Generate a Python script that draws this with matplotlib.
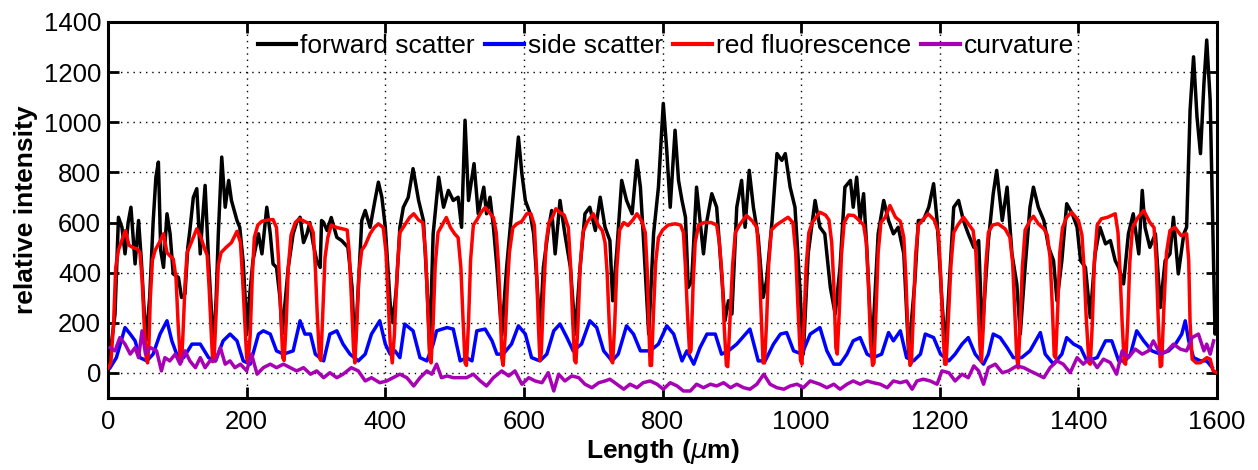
import matplotlib
matplotlib.use("Agg")
import matplotlib.pyplot as plt

plt.rcParams['font.family'] = ['Liberation Sans', 'DejaVu Sans']

# ---------------- data ----------------
fwd_x = [0, 5, 10, 15, 20, 24.5, 29, 33, 39, 44, 48, 52, 55, 60, 65, 69, 72.6, 76, 80, 85, 89.5, 94,
         101.5, 106, 111, 115, 118, 123, 128, 133, 136, 140, 145, 149, 152, 156, 159, 164, 169, 174, 178,
         186, 190, 195, 198, 200, 204, 209, 217, 222, 229, 234, 238, 243, 248, 251, 256, 260, 267, 272,
         277, 282, 287, 291, 296, 301, 306, 308, 311, 316, 322, 330, 337, 346, 352, 356, 361, 366, 371,
         378, 385, 390, 395, 400, 407, 411, 416, 421,
         426, 433, 440, 448, 455, 460, 464, 469, 477, 484, 491, 498, 505, 510, 515, 520, 528, 534, 542,
         546, 551, 556, 561, 568, 575, 582, 592, 597, 602, 609, 614, 619, 623, 628, 635, 640, 645, 652,
         659, 667, 674, 681, 688, 695, 703, 710, 717, 724, 728, 734, 741, 748, 756, 763, 768, 772, 780,
         787, 794, 801, 806, 811, 818, 823, 828, 833, 837, 842, 849, 854, 859, 864, 871, 878, 883, 890,
         895, 900, 907, 914, 919, 925, 931, 938, 945, 950, 958, 965, 972, 977, 984, 991, 998, 1003,
         1010, 1020, 1027, 1034, 1042, 1049, 1056, 1063, 1071, 1075, 1080, 1085, 1090, 1095, 1102,
         1111, 1119, 1126, 1133, 1140, 1148, 1155, 1164, 1169, 1176, 1184, 1191, 1196, 1203, 1208,
         1215, 1220, 1227, 1234, 1241, 1249, 1256, 1261, 1270, 1277, 1282, 1290, 1297, 1304, 1311, 1316,
         1323, 1330, 1335, 1342, 1350, 1357, 1364, 1369, 1376, 1383, 1391, 1398, 1403, 1410, 1417,
         1424, 1431, 1439, 1446, 1453, 1458, 1465, 1472, 1479, 1487, 1492, 1496, 1503, 1511, 1518,
         1525, 1532, 1537, 1544, 1552, 1556, 1561, 1566, 1571, 1576, 1581, 1585, 1590, 1594, 1597, 1600]
fwd_y = [60, 120, 235, 621, 581, 475, 600, 661, 435, 608, 450, 250, 130, 300, 600, 780, 841, 488, 421, 635, 555, 395,
         381, 301, 315, 500, 568, 700, 735, 475, 600, 748, 448, 250, 88, 300, 550, 861, 661, 768, 688,
         608, 581, 440, 288, 155, 300, 448, 555, 475, 661, 555, 435, 421, 300, 155, 300, 421, 555, 600,
         621, 520, 555, 600, 515, 448, 421, 608, 600, 568, 620, 541, 528, 501, 341, 75, 341, 608, 648,
         581, 688, 761, 701, 581, 275, 200, 341, 581,
         661, 700, 815, 688, 608, 355, 88, 555, 781, 661, 728, 688, 701, 581, 1008, 688, 835, 635, 741,
         635, 701, 581, 421, 150, 421, 635, 941, 795, 688, 635, 555, 355, 155, 421, 568, 648, 475, 688,
         555, 421, 155, 421, 635, 661, 568, 701, 581, 528, 288, 488, 768, 688, 635, 848, 741, 555, 155,
         555, 741, 1075, 888, 661, 968, 768, 688, 621, 341, 368, 741, 608, 475, 608, 715, 661, 475, 208,
         288, 235, 661, 768, 581, 808, 661, 541, 301, 368, 608, 875, 848, 875, 741, 661, 341, 75,
         475, 688, 581, 555, 341, 235, 421, 741, 768, 661, 781, 608, 715, 475, 75,
         555, 688, 608, 555, 581, 475, 75, 368, 608, 608, 661, 755, 608, 288, 88,
         421, 661, 688, 608, 555, 501, 528, 155, 528, 715, 808, 608, 741, 475, 355, 155,
         421, 661, 741, 661, 608, 501, 448, 288, 448, 675, 635, 581, 448, 421, 221,
         475, 581, 515, 528, 448, 421, 355, 555, 635, 475, 728, 581, 501, 555, 261,
         448, 475, 621, 395, 555, 581, 1048, 1261, 1021, 875, 1155, 1328, 1088, 555, 155, 250]

side_x = [3, 12, 24.5, 32, 39, 46, 56, 65, 75, 85, 92, 99, 109, 121, 133, 145, 155, 166, 176, 186, 195,
          205, 217, 224, 234, 243, 253, 267, 277, 284, 292, 299, 311, 320, 330, 339, 349, 361, 371, 380,
          392, 400, 407, 414, 421, 428, 440, 450, 460, 469, 474, 489, 498, 508, 517, 525, 532, 544, 554,
          561, 570, 582, 592, 602, 611, 623, 633, 643, 652, 662, 671, 683, 695, 705, 715, 727, 736, 748,
          758, 768, 782, 794, 806, 816, 828, 835, 845, 854, 864, 876, 885, 895, 907, 926, 938, 948, 960,
          970, 979, 989, 1001, 1013, 1027, 1037, 1047, 1056, 1066, 1075, 1085, 1095, 1104, 1116, 1126,
          1133, 1143, 1152, 1162, 1172, 1179, 1191, 1201, 1213, 1222, 1232, 1241, 1251, 1263, 1270,
          1277, 1287, 1297, 1306, 1318, 1330, 1345, 1352, 1364, 1376, 1383, 1393, 1403, 1412, 1427,
          1439, 1448, 1458, 1467, 1475, 1484, 1494, 1506, 1518, 1530, 1540, 1549, 1554, 1559, 1566,
          1576, 1585, 1593]
side_y = [21, 61, 181, 155, 128, 61, 48, 75, 155, 208, 128, 75, 61, 115, 115, 61, 48, 128, 155, 128, 48,
          35, 155, 168, 155, 88, 75, 88, 208, 155, 155, 75, 48, 155, 168, 115, 75, 48, 75, 155,
          208, 115, 75, 88, 61, 195, 168, 61, 48, 115, 168, 181, 175, 48, 61, 48, 168, 175, 128,
          75, 75, 115, 188, 155, 61, 48, 75, 168, 195, 141, 88, 115, 208, 181, 88, 48, 75, 188,
          155, 88, 88, 115, 188, 155, 48, 88, 35, 101, 155, 155, 75, 88, 115, 175, 48, 48, 115,
          155, 161, 88, 75, 155, 181, 88, 35, 35, 75, 128, 141, 75, 61, 75, 161,
          128, 168, 61, 48, 75, 155, 141, 75, 48, 75, 115, 141, 75, 35, 75,
          155, 141, 101, 61, 61, 88, 161, 75, 35, 75, 141, 115, 101, 48, 61,
          128, 128, 48, 48, 75, 168, 128, 88, 75, 88, 115, 155, 208, 128, 61,
          48, 48, 21]

red_x = [0, 4, 8, 11, 15, 20, 25, 30, 36, 42, 46, 49, 52, 55, 57, 59, 61, 64, 68, 74, 80, 85, 90, 94, 98,
         101, 104, 106, 108, 111, 114, 120, 128, 134, 140, 143, 146, 149, 151, 153, 156, 159, 163, 170,
         178, 186, 191, 194, 197, 200, 202, 205, 208, 211, 216, 222, 230, 238, 243, 246, 249, 252, 254,
         257, 260, 264, 270, 276, 283, 291, 296, 299, 302, 305, 307, 310, 313, 317, 322, 330, 338, 345,
         348, 351, 354, 356, 359, 362, 366, 371, 378, 384, 390, 397, 401, 404, 407, 410, 413, 417, 421,
         428, 435, 441, 448, 454, 458, 461, 464, 466, 469, 472, 476, 482, 488, 494, 500, 505, 509, 512,
         515, 517, 520, 523, 527, 532, 538, 544, 550, 556, 560, 563, 566, 568, 570, 573, 576, 579, 584,
         590, 597, 604, 610, 615, 618, 621, 623, 625, 628, 632, 636, 641, 646, 652, 658, 664, 667, 670,
         673, 675, 678, 681, 685, 691, 700, 707, 713, 717, 720, 723, 726, 728, 731, 734, 738, 744, 750,
         757, 763, 770, 775, 778, 780, 782, 784, 787, 790, 794, 800, 808, 818, 826, 830, 833, 836, 839,
         841, 844, 847, 852, 860, 870, 878, 882, 886, 889, 892, 894, 897, 901, 905, 911, 921, 930, 936,
         939, 942, 945, 947, 950, 953, 957, 964, 974, 981, 988, 992, 995, 999, 1001, 1004, 1007, 1011,
         1016, 1027, 1035, 1040, 1044, 1047, 1050, 1052, 1055, 1058, 1062, 1068, 1076, 1083, 1090, 1094,
         1097, 1100, 1103, 1105, 1108, 1111, 1115, 1121, 1128, 1136, 1143, 1148, 1151, 1154, 1157, 1159,
         1162, 1165, 1169, 1175, 1183, 1192, 1198, 1201, 1204, 1207, 1209, 1212, 1216, 1220, 1226, 1234,
         1241, 1248, 1252, 1255, 1258, 1260, 1263, 1266, 1270, 1276, 1284, 1294, 1301, 1305, 1308, 1311,
         1313, 1316, 1319, 1323, 1330, 1335, 1342, 1350, 1355, 1359, 1362, 1365, 1367, 1370, 1373, 1377,
         1383, 1390, 1400, 1405, 1408, 1411, 1415, 1417, 1420, 1423, 1427, 1433, 1442, 1453, 1457, 1460,
         1463, 1466, 1468, 1471, 1474, 1478, 1486, 1494, 1503, 1509, 1512, 1515, 1518, 1520, 1523, 1527,
         1532, 1539, 1548, 1556, 1559, 1561, 1564, 1570, 1576, 1580, 1585, 1590, 1594, 1600]
red_y = [20, 40, 200, 420, 490, 530, 568, 510, 500, 495, 480, 380, 200, 60, 40, 120, 300, 450, 490, 520,
         555, 480, 465, 455, 380, 200, 60, 45, 150, 350, 480, 520, 575, 540, 490, 470, 330, 150, 45, 60,
         250, 430, 480, 500, 520, 565, 520, 380, 220, 60, 40, 150, 380, 540, 590, 605, 610, 612, 580, 450,
         260, 60, 50, 200, 420, 550, 600, 615, 605, 595, 560, 420, 220, 60, 50, 250, 460, 540, 590, 580,
         575, 570, 480, 300, 100, 40, 200, 400, 490, 510, 555, 580, 595, 580, 480, 300, 120, 40, 150, 400,
         560, 590, 620, 635, 610, 600, 480, 280, 60, 40, 200, 430, 560, 590, 620, 580, 555, 540, 420, 220,
         40, 30, 200, 450, 590, 610, 640, 660, 640, 620, 560, 440, 250, 60, 30, 150, 340, 480, 580, 595,
         605, 635, 635, 590, 420, 180, 50, 80, 300, 520, 600, 620, 655, 640, 630, 580, 440, 230, 50, 40,
         200, 420, 560, 600, 635, 590, 568, 520, 400, 200, 50, 40, 200, 420, 570, 600, 588, 610, 635, 605,
         560, 400, 200, 30, 30, 250, 440, 540, 570, 590, 595, 590, 560, 420, 230, 80, 90, 350, 520, 590,
         600, 600, 590, 520, 380, 180, 30, 25, 200, 430, 560, 590, 628, 605, 580, 460, 250, 40, 40, 200,
         430, 570, 590, 608, 621, 600, 480, 280, 50, 35, 200, 420, 560, 600, 641, 630, 610, 520, 350, 100,
         75, 250, 470, 600, 630, 628, 610, 590, 520, 350, 120, 30, 40, 250, 480, 600, 620, 668, 621, 605,
         540, 380, 150, 30, 40, 250, 470, 590, 610, 635, 610, 560, 400, 200, 35, 35, 200, 430, 560, 590,
         621, 595, 568, 480, 300, 100, 45, 200, 420, 560, 590, 595, 575, 541, 440, 250, 60, 20, 200, 420,
         570, 608, 625, 595, 575, 550, 460, 280, 70, 60, 250, 480, 580, 621, 641, 608, 550, 420, 230, 40,
         35, 200, 450, 590, 615, 621, 635, 560, 400, 200, 40, 35, 200, 440, 580, 621, 648, 600, 580, 450,
         220, 25, 30, 250, 480, 568, 581, 548, 555, 450, 200, 55, 40, 41, 50, 61, 55, 10, 0]

curv_x = [3, 10, 17, 24.5, 32, 39, 44, 49, 54, 61, 70, 77, 82, 89, 97, 104, 111, 118, 126, 133, 140, 147,
          155, 162, 169, 176, 183, 191, 200, 207, 215, 224, 234, 243, 253, 263, 272, 282, 292, 301, 311,
          320, 330, 339, 351, 361, 371, 380, 392, 402, 411, 421, 431, 441, 450, 460, 467, 474, 481, 489,
          498, 508, 517, 527, 537, 546, 556, 568, 578, 587, 597, 607, 616, 626, 635, 643, 650, 659, 669,
          679, 688, 698, 708, 717, 724, 734, 744, 753, 763, 772, 782, 792, 801, 811, 821, 830, 840, 849,
          859, 869, 878, 888, 898, 907, 917, 926, 936, 946, 955, 965, 975, 984, 994, 1003, 1013, 1027,
          1037, 1047, 1056, 1066, 1075, 1085, 1095, 1104, 1114, 1124, 1133, 1143, 1152, 1160, 1167, 1176,
          1186, 1196, 1203, 1213, 1222, 1232, 1241, 1249, 1256, 1263, 1270, 1280, 1290, 1299, 1311, 1321,
          1330, 1340, 1350, 1359, 1369, 1378, 1388, 1398, 1407, 1417, 1427, 1436, 1446, 1455, 1463, 1472,
          1482, 1492, 1501, 1508, 1518, 1528, 1537, 1547, 1556, 1564, 1573, 1581, 1585, 1590, 1595]
curv_y = [101, 88, 141, 115, 75, 101, 61, 168, 75, 101, 88, 8, 61, 48, 75, 35, 88, 48, 21, 61, 21, 48,
          48, 101, 35, 48, 21, 35, 8, 75, -5, 21, 35, 21, 35, 21, 8, 21, -5, 8, -19,
          1, -19, -5, 21, 8, -32, -19, -39, -32, -19, -5, -19, -52, -19, 8, -5, 35, -19, -12,
          -19, -19, -19, -5, -32, -52, -19, 8, -12, 8, -45, -19, -32, -39, 1, -72, -5, -32, -12,
          -19, -45, -59, -39, -32, -25, -45, -65, -45, -59, -39, -32, -45, -65, -39, -52, -72, -72, -45,
          -59, -45, -52, -39, -59, -45, -59, -65, -45, -5, -45, -59, -65, -52, -45, -59, -32, -45,
          -59, -45, -65, -45, -32, -45, -32, -39, -45, -59, -32, -39, -32, -65, -32, -25,
          -32, -45, 8, 1, -32, -5, -19, 28, 8, -45, 21, 35, 1, 8, 28, 21,
          8, -5, -19, 21, 48, 35, 1, 61, 35, 61, 21, 55, 41, -5, 88, 61,
          95, 75, 88, 128, 75, 88, 115, 95, 88, 141, 155, 88, 115, 75, 128]

labels = ['forward scatter', 'side scatter', 'red fluorescence', 'curvature']
colors = ['#000000', '#0000ff', '#ff0000', '#a800b4']
x_ticks = [0, 200, 400, 600, 800, 1000, 1200, 1400, 1600]
y_ticks = [0, 200, 400, 600, 800, 1000, 1200, 1400]

# ---------------- plot ----------------
fig = plt.figure(figsize=(12.58, 4.70), dpi=100)
ax = fig.add_axes([0.0859, 0.1532, 0.8816, 0.800])

series = [(fwd_x, fwd_y), (side_x, side_y), (red_x, red_y), (curv_x, curv_y)]
for (xs, ys), lab, col, z in zip(series, labels, colors, [3, 4, 5, 6]):
    n = min(len(xs), len(ys))
    ax.plot(xs[:n], ys[:n], color=col, lw=2.5, label=lab, zorder=z)

ax.set_xlim(0, 1600)
ax.set_ylim(-100, 1400)
ax.set_xticks(x_ticks)
ax.set_yticks(y_ticks)
ax.tick_params(direction='in', length=8, width=2, top=True, right=True,
               labelsize=18.5)
ax.tick_params(axis='x', pad=9)
ax.tick_params(axis='y', pad=5)
for sp in ax.spines.values():
    sp.set_linewidth(2.2)
ax.grid(True, color='black', linestyle=(0, (1, 3.5)), linewidth=1.0, zorder=1)
ax.set_axisbelow(True)

ax.set_xlabel(r'Length ($\mu$m)', fontsize=19, fontweight='bold', labelpad=2)
ax.set_ylabel('relative intensity', fontsize=19, fontweight='bold', labelpad=4)

leg = ax.legend(loc='upper center', bbox_to_anchor=(0.503, 1.0), ncol=4, frameon=False,
                fontsize=19, handlelength=1.45, handletextpad=0.15, columnspacing=0.4,
                borderaxespad=0.05)
for h in leg.legend_handles:
    h.set_linewidth(3)

fig.savefig('out.png', dpi=100)
